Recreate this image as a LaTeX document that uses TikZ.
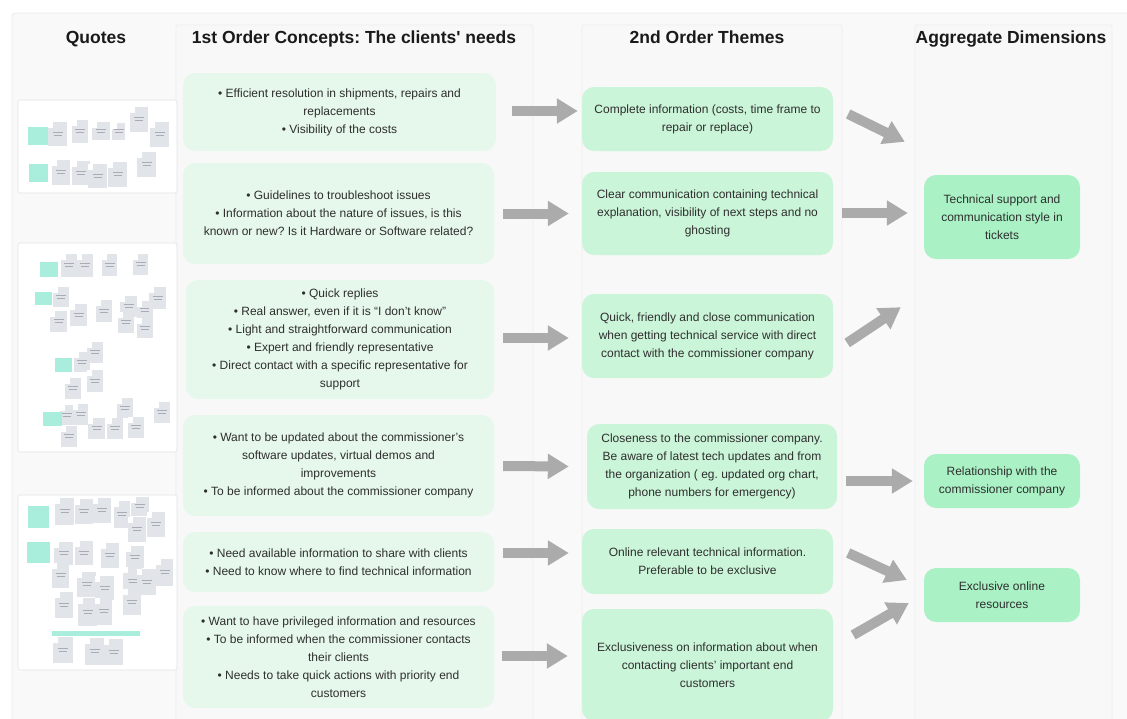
\documentclass[tikz,border=0pt]{standalone}
\usepackage{fontspec}
\setmainfont{Liberation Sans}[Ligatures=TeXOff]
\usetikzlibrary{arrows.meta,calc}
\frenchspacing

\definecolor{pagebg}{HTML}{FFFFFF}
\definecolor{boardbg}{HTML}{F9F9F9}
\definecolor{boardline}{HTML}{ECECEC}
\definecolor{colbg}{HTML}{F8F8F8}
\definecolor{colline}{HTML}{EDEDED}
\definecolor{needfill}{HTML}{E6F8EB}
\definecolor{themefill}{HTML}{CBF5D9}
\definecolor{dimfill}{HTML}{AAF2C5}
\definecolor{arrowgray}{HTML}{ABABAB}
\definecolor{bodytext}{HTML}{2E2E2E}
\definecolor{headtext}{HTML}{1A1A1A}
\definecolor{notegray}{HTML}{E1E4E9}
\definecolor{notemint}{HTML}{A9EEDD}
\definecolor{noteink}{HTML}{A8ADB5}
\definecolor{cardline}{HTML}{E4E4E4}

\tikzset{
  header/.style={font=\fontsize{17.5}{20}\selectfont\bfseries, text=headtext, inner sep=0},
  box/.style={rounded corners=12pt, align=center, text=bodytext, inner xsep=8pt, inner ysep=0pt,
              font=\fontsize{12}{18}\selectfont\frenchspacing},
  need/.style={box, fill=needfill},
  theme/.style={box, fill=themefill},
  dimension/.style={box, fill=dimfill},
  flow/.style={draw=arrowgray, line width=10pt, -{Triangle[width=24pt,length=21pt]}},
  card/.style={fill=white, draw=cardline, line width=0.6pt, rounded corners=2pt},
  note/.style={fill=notegray},
  tag/.style={fill=notemint},
}

\begin{document}
\begin{tikzpicture}[x=1pt,y=-1pt]
\useasboundingbox (0,0) rectangle (1127,718);
\fill[pagebg] (0,0) rectangle (1127,718);

% board and column panels
\filldraw[fill=boardbg, draw=boardline, line width=0.8pt, rounded corners=3pt] (12,13) rectangle (1140,735);
\filldraw[fill=colbg, draw=colline, line width=0.8pt, rounded corners=2pt] (176,25) rectangle (533,735);
\filldraw[fill=colbg, draw=colline, line width=0.8pt, rounded corners=2pt] (582,25) rectangle (842,735);
\filldraw[fill=colbg, draw=colline, line width=0.8pt, rounded corners=2pt] (915,25) rectangle (1112,735);

% column headings
\node[header] (hq) at (96,39) {Quotes};
\node[header] (h1) at (354,39) {1st Order Concepts: The clients' needs};
\node[header] (h2) at (707,37) {2nd Order Themes};
\node[header] (h3) at (1011,39) {Aggregate Dimensions};

% quote boards with sticky notes
\draw[card] (18,100) rectangle (177,193);
\draw[card] (18,243) rectangle (177,452);
\draw[card] (18,495) rectangle (177,670);

\foreach \a/\b/\c/\d in {
  48/122/67/146, 72/120/88/143, 92/122/110/140, 112/123/125/140, 130/107/148/132, 150/122/169/147,
  52/160/70/185, 72/161/90/185, 88/164/107/188, 108/162/127/187, 137/152/156/177,
  61/254/77/277, 77/254/93/277, 102/254/117/276, 133/254/148/275,
  53/287/69/307, 50/311/67/332, 70/304/87/326, 96/300/112/322, 120/296/137/317, 137/301/153/320,
  149/287/166/309, 118/312/134/333, 137/318/153/338,
  74/352/90/372, 87/342/103/363, 65/378/81/399, 87/370/103/392,
  60/405/73/425, 73/404/88/425, 61/426/77/447, 88/418/105/439, 107/418/123/439, 117/398/133/418,
  128/417/144/438, 154/402/170/423,
  55/498/74/525, 75/499/93/524, 93/498/111/523, 114/501/130/528, 131/497/149/516, 128/517/146/542,
  147/512/165/537,
  54/542/73/565, 75/541/93/565, 101/543/119/568, 126/546/144/568, 52/563/69/588, 77/572/96/597,
  95/576/114/600, 123/567/142/595, 137/569/156/595, 156/559/173/586, 55/592/73/618, 78/598/97/626,
  95/598/112/625, 123/589/141/615,
  53/637/73/663, 85/638/104/665, 104/639/123/665}
{
  \fill[note] (\a,\b) rectangle (\c,\d);
  \fill[white] (\a,\b) rectangle ($(\a,\b)+(5,6)$);
  \pgfmathsetmacro{\cx}{(\a+\c)/2}
  \pgfmathsetmacro{\cy}{(\b+\d)/2}
  \draw[noteink, line width=0.5pt] (\cx-5,\cy-2) -- (\cx+5,\cy-2);
  \draw[noteink, line width=0.5pt] (\cx-4,\cy+1) -- (\cx+4,\cy+1);
}
\foreach \a/\b/\c/\d in {
  28/127/48/145, 29/164/48/182,
  40/262/58/277, 35/292/52/305, 55/358/72/372, 43/412/62/426,
  28/506/49/528, 27/542/50/563, 52/631/140/636}
{
  \fill[tag] (\a,\b) rectangle (\c,\d);
}

% first order concepts
\node[need, minimum width=313pt, minimum height=78pt] (b1) at (339.5,112)
  {• Efficient resolution in shipments, repairs and\\ replacements\\ • Visibility of the costs};
\node[need, minimum width=311pt, minimum height=101pt] (b2) at (338.5,213.5)
  {• Guidelines to troubleshoot issues\\ • Information about the nature of issues, is this\\ known or new? Is it Hardware or Software related?};
\node[need, minimum width=308pt, minimum height=119pt] (b3) at (340,339.5)
  {• Quick replies\\ • Real answer, even if it is “I don’t know”\\ • Light and straightforward communication\\
   • Expert and friendly representative\\ • Direct contact with a specific representative for\\ support};
\node[need, minimum width=311pt, minimum height=101pt] (b4) at (338.5,465.5)
  {• Want to be updated about the commissioner’s\\ software updates, virtual demos and\\ improvements\\
   • To be informed about the commissioner company};
\node[need, minimum width=311pt, minimum height=60pt] (b5) at (338.5,562)
  {• Need available information to share with clients\\ • Need to know where to find technical information};
\node[need, minimum width=311pt, minimum height=102pt] (b6) at (338.5,657)
  {• Want to have privileged information and resources\\ • To be informed when the commissioner contacts\\ their clients\\
   • Needs to take quick actions with priority end\\ customers};

% second order themes
\node[theme, minimum width=251pt, minimum height=64pt] (t1) at (707.5,119)
  {Complete information (costs, time frame to\\ repair or replace)};
\node[theme, minimum width=251pt, minimum height=83pt] (t2) at (707.5,213.5)
  {Clear communication containing technical\\ explanation, visibility of next steps and no\\ ghosting};
\node[theme, minimum width=251pt, minimum height=84pt] (t3) at (707.5,336)
  {Quick, friendly and close communication\\ when getting technical service with direct\\ contact with the commissioner company};
\node[theme, minimum width=250pt, minimum height=85pt] (t4) at (712,466.5)
  {Closeness to the commissioner company.\\ Be aware of latest tech updates and from\\ the organization ( eg. updated org chart,\\ phone numbers for emergency)};
\node[theme, minimum width=251pt, minimum height=65pt] (t5) at (707.5,561.5)
  {Online relevant technical information.\\ Preferable to be exclusive};
\node[theme, minimum width=251pt, minimum height=112pt] (t6) at (707.5,665)
  {Exclusiveness on information about when\\ contacting clients’ important end\\ customers};

% aggregate dimensions
\node[dimension, minimum width=156pt, minimum height=84pt] (a1) at (1002,217)
  {Technical support and\\ communication style in\\ tickets};
\node[dimension, minimum width=156pt, minimum height=54pt] (a2) at (1002,481)
  {Relationship with the\\ commissioner company};
\node[dimension, minimum width=156pt, minimum height=54pt] (a3) at (1002,595)
  {Exclusive online\\ resources};

% needs to themes
\draw[flow] ($(b1.east)+(16,-1)$) -- ($(t1.west)+(-4,-8)$);
\draw[flow] ($(b2.east)+(9,0)$) -- ($(t2.west)+(-13,0)$);
\draw[flow] ($(b3.east)+(9,-1.5)$) -- ($(t3.west)+(-13,2)$);
\draw[flow] ($(b4.east)+(9,0.5)$) -- ($(t4.west)+(-18,0)$);
\draw[flow] ($(b5.east)+(9,-9)$) -- ($(t5.west)+(-13,-8.5)$);
\draw[flow] ($(b6.east)+(8,-1)$) -- ($(t6.west)+(-14,-9)$);

% themes to dimensions
\draw[flow] ($(t1.east)+(15,-5)$) -- ($(a1.north west)+(-19,-33)$);
\draw[flow] ($(t2.east)+(9,-0.5)$) -- ($(a1.west)+(-16,-4)$);
\draw[flow] ($(t3.east)+(14,7)$) -- ($(a1.south west)+(-23,48)$);
\draw[flow] ($(t4.east)+(9,14.5)$) -- ($(a2.west)+(-11,0)$);
\draw[flow] ($(t5.east)+(15,-8.5)$) -- ($(a3.west)+(-17,-15)$);
\draw[flow] ($(t6.east)+(20,-30)$) -- ($(a3.west)+(-15,8)$);
\end{tikzpicture}
\end{document}
